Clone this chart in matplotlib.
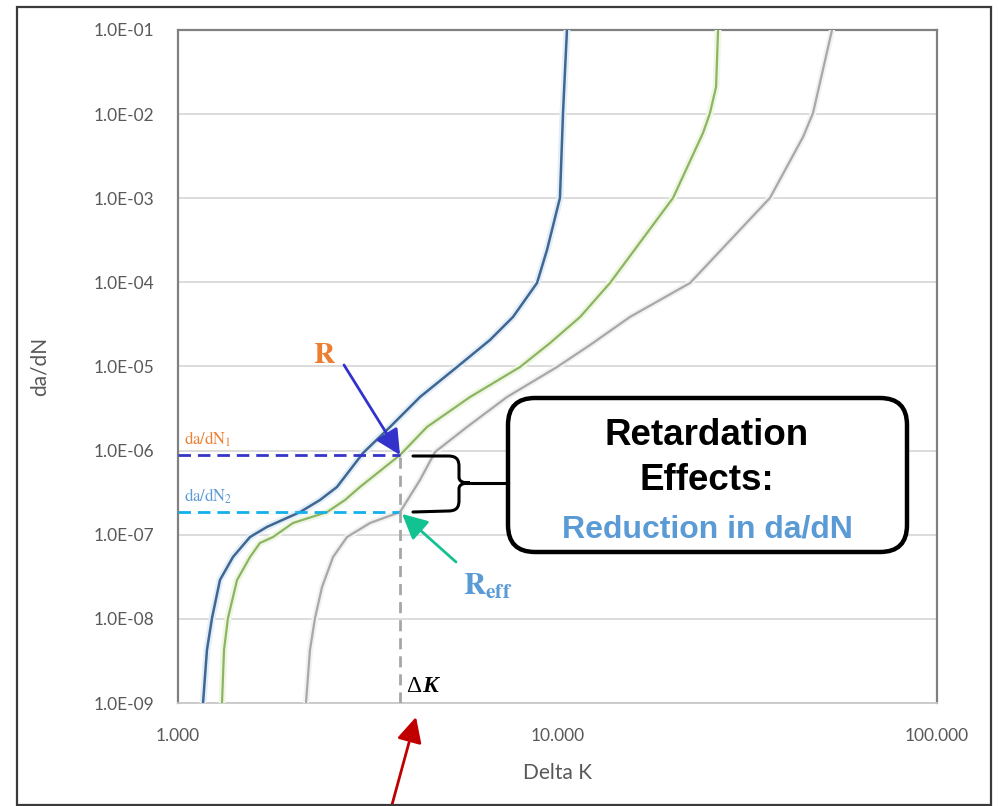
import matplotlib
matplotlib.use('Agg')
import matplotlib.pyplot as plt
from matplotlib.patches import FancyBboxPatch, Rectangle, PathPatch, FancyArrowPatch
from matplotlib.path import Path
from matplotlib.ticker import NullLocator
import matplotlib.patheffects as pe

plt.rcParams['mathtext.fontset'] = 'stix'

# ---------------- data ----------------
blue_dk = [1.164, 1.192, 1.229, 1.290, 1.396, 1.548, 1.716, 2.097, 2.367, 2.624,
           3.073, 3.620, 4.342, 5.435, 6.640, 7.633, 8.831, 9.383, 10.15, 10.34, 10.59]
blue_dadn = [1e-9, 4.27e-9, 1.02e-8, 2.90e-8, 5.44e-8, 9.40e-8, 1.24e-7, 1.86e-7, 2.59e-7, 3.70e-7,
             9.37e-7, 1.91e-6, 4.34e-6, 9.86e-6, 2.07e-5, 3.88e-5, 9.84e-5, 2.43e-4, 1.01e-3, 1.03e-2, 1e-1]

green_dk = [1.306, 1.322, 1.354, 1.431, 1.548, 1.644, 1.780, 2.009, 2.470, 2.755, 3.017,
            3.846, 4.530, 5.883, 7.966, 9.555, 11.47, 13.75, 20.16, 24.18, 25.22, 26.17, 26.49]
green_dadn = [1e-9, 4.27e-9, 1.02e-8, 2.90e-8, 5.44e-8, 7.98e-8, 9.40e-8, 1.38e-7, 1.86e-7, 2.59e-7, 3.70e-7,
              8.87e-7, 1.91e-6, 4.34e-6, 9.86e-6, 1.90e-5, 3.88e-5, 9.84e-5, 1.01e-3, 5.97e-3, 1.03e-2, 2.10e-2, 1e-1]

gray_dk = [2.174, 2.227, 2.296, 2.396, 2.562, 2.789, 3.206, 3.846, 4.342, 4.756, 5.775,
           7.362, 9.970, 12.18, 15.52, 22.35, 36.30, 44.36, 47.13, 52.89]
gray_dadn = [1e-9, 4.27e-9, 1.02e-8, 2.39e-8, 5.44e-8, 9.40e-8, 1.38e-7, 1.86e-7, 4.48e-7, 9.63e-7, 1.91e-6,
             4.34e-6, 9.86e-6, 1.80e-5, 3.88e-5, 9.84e-5, 1.01e-3, 5.35e-3, 1.03e-2, 1e-1]

delta_k = 3.846
dadn_1 = 8.87e-7
dadn_2 = 1.86e-7

x_ticks = [1, 10, 100]
x_tick_labels = ['1.000', '10.000', '100.000']
y_ticks = [1e-9, 1e-8, 1e-7, 1e-6, 1e-5, 1e-4, 1e-3, 1e-2, 1e-1]
y_tick_labels = ['1.0E-09', '1.0E-08', '1.0E-07', '1.0E-06', '1.0E-05',
                 '1.0E-04', '1.0E-03', '1.0E-02', '1.0E-01']

# ---------------- figure ----------------
W, H = 999, 806
fig = plt.figure(figsize=(W / 100, H / 100), dpi=100)
fig.patch.set_facecolor('white')


def F(x, y):
    """reference pixel -> figure fraction"""
    return (x / W, 1 - y / H)


L, R, T, B = 178, 937, 30, 703
ax = fig.add_axes([L / W, 1 - B / H, (R - L) / W, (B - T) / H])
ax.set_xscale('log')
ax.set_yscale('log')
ax.set_xlim(1, 100)
ax.set_ylim(1e-9, 1e-1)
ax.set_xticks(x_ticks)
ax.set_xticklabels(x_tick_labels)
ax.set_yticks(y_ticks)
ax.set_yticklabels(y_tick_labels)
ax.xaxis.set_minor_locator(NullLocator())
ax.yaxis.set_minor_locator(NullLocator())
ax.tick_params(axis='both', length=0, labelcolor='#595959', labelsize=12.5)
ax.tick_params(axis='y', pad=17)
ax.tick_params(axis='x', pad=18)
for lab in ax.get_xticklabels() + ax.get_yticklabels():
    lab.set_fontfamily('Lato')
ax.grid(axis='y', which='major', color='#d9d9d9', lw=1.3)
ax.set_axisbelow(True)
for s in ['left', 'top', 'right']:
    ax.spines[s].set_color('#808080')
    ax.spines[s].set_linewidth(1.6)
ax.spines['bottom'].set_color('#c8c8c8')
ax.spines['bottom'].set_linewidth(1.3)

ax.set_xlabel('Delta K', fontfamily='Lato', fontsize=15, color='#595959', labelpad=14)
ax.set_ylabel('da/dN', fontfamily='Lato', fontsize=15, color='#595959', labelpad=32)

# curves
ax.plot(blue_dk, blue_dadn, color='#3f6792', lw=1.8, zorder=4,
        path_effects=[pe.Stroke(linewidth=5, foreground='#e3eef8'), pe.Normal()])
ax.plot(green_dk, green_dadn, color='#8cb563', lw=1.6, zorder=4,
        path_effects=[pe.Stroke(linewidth=5, foreground='#f0f6e4'), pe.Normal()])
ax.plot(gray_dk, gray_dadn, color='#a8a8a8', lw=1.6, zorder=4,
        path_effects=[pe.Stroke(linewidth=4.5, foreground='#f2f2f2'), pe.Normal()])

# dashed reference lines
ax.plot([1, delta_k], [dadn_1, dadn_1], color='#3535c8', lw=2, dashes=(4.5, 2.5), zorder=5)
ax.plot([1, delta_k], [dadn_2, dadn_2], color='#13b0ea', lw=2, dashes=(4.5, 2.5), zorder=5)
ax.plot([delta_k, delta_k], [1e-9, dadn_1], color='#a6a6a6', lw=2, dashes=(4, 2.5), zorder=5)

# da/dN labels
ax.annotate(r'$\mathrm{da/dN}_1$', xy=(1, dadn_1), xytext=(6, 6), textcoords='offset pixels',
            fontsize=12, color='#ed7d31', ha='left', va='bottom')
ax.annotate(r'$\mathrm{da/dN}_2$', xy=(1, dadn_2), xytext=(6, 6), textcoords='offset pixels',
            fontsize=12, color='#5b9bd5', ha='left', va='bottom')

# R arrow
ax.annotate('', xy=(delta_k, dadn_1), xycoords='data',
            xytext=F(344, 365), textcoords='figure fraction',
            arrowprops=dict(arrowstyle='-|>,head_length=0.9,head_width=0.45', color='#3333cc',
                            lw=2, shrinkA=0, shrinkB=0, mutation_scale=17), zorder=6)
fig.text(*F(324, 355), r'$\mathbf{R}$', fontsize=21, color='#ed7d31', ha='center', va='center')

# R_eff arrow
ax.annotate('', xy=(delta_k, dadn_2), xycoords='data',
            xytext=F(456, 562), textcoords='figure fraction',
            arrowprops=dict(arrowstyle='-|>,head_length=0.9,head_width=0.45', color='#12c391',
                            lw=2, shrinkA=0, shrinkB=2, mutation_scale=17), zorder=6)
fig.text(*F(488, 586), r'$\mathbf{R}_{\mathbf{eff}}$', fontsize=22, color='#5b9bd5',
         ha='center', va='center')

# Delta K label and red arrow
ax.annotate('Δ', xy=(delta_k, 1e-9), xytext=(6, 6), textcoords='offset pixels',
            fontfamily='Liberation Serif', fontsize=17, color='black', ha='left', va='bottom')
ax.annotate('K', xy=(delta_k, 1e-9), xytext=(22, 6), textcoords='offset pixels',
            fontfamily='Liberation Serif', fontsize=17, fontweight='bold', fontstyle='italic',
            color='black', ha='left', va='bottom')
fig.add_artist(FancyArrowPatch(
    F(390, 812), F(416, 717), transform=fig.transFigure,
    arrowstyle='-|>,head_length=0.9,head_width=0.45', color='#c00000', lw=2,
    mutation_scale=17, shrinkA=0, shrinkB=0))

# curly brace (figure pixel geometry)
brace_px = [(413, 456), (448, 456), (457, 456), (459, 460), (459, 467), (459, 477),
            (459, 481), (462, 483), (470, 483),
            (462, 483), (459, 485), (459, 489), (459, 500),
            (459, 507), (457, 511), (448, 511), (413, 512)]
codes = [Path.MOVETO, Path.LINETO, Path.CURVE4, Path.CURVE4, Path.CURVE4, Path.LINETO,
         Path.CURVE4, Path.CURVE4, Path.CURVE4,
         Path.CURVE4, Path.CURVE4, Path.CURVE4, Path.LINETO,
         Path.CURVE4, Path.CURVE4, Path.CURVE4, Path.LINETO]
brace = PathPatch(Path([F(*p) for p in brace_px], codes), transform=fig.transFigure,
                  fill=False, lw=2.2, edgecolor='black', capstyle='round')
fig.add_artist(brace)
fig.add_artist(plt.Line2D([F(468, 483)[0], F(508, 483)[0]], [F(468, 483)[1], F(508, 483)[1]],
                          transform=fig.transFigure, color='black', lw=2.2))

# callout box
bx0, by0 = F(508, 552)
bx1, by1 = F(907, 398)
box = FancyBboxPatch((bx0, by0), bx1 - bx0, by1 - by0,
                     boxstyle='round,pad=0,rounding_size=0.027', transform=fig.transFigure,
                     facecolor='white', edgecolor='black', lw=3.2, mutation_aspect=W / H)
fig.add_artist(box)
fig.text(*F(707, 445), 'Retardation', fontfamily='Liberation Sans', fontweight='bold',
         fontsize=26.5, color='black', ha='center', va='baseline')
fig.text(*F(707, 490), 'Effects:', fontfamily='Liberation Sans', fontweight='bold',
         fontsize=26.5, color='black', ha='center', va='baseline')
fig.text(*F(707, 537), 'Reduction in da/dN', fontfamily='Liberation Sans', fontweight='bold',
         fontsize=23, color='#5b9bd5', ha='center', va='baseline')

# outer frame
fx0, fy0 = F(17, 805)
fx1, fy1 = F(991, 7)
fig.add_artist(Rectangle((fx0, fy0), fx1 - fx0, fy1 - fy0, transform=fig.transFigure,
                         fill=False, edgecolor='#3a3a3a', lw=1.6))

fig.savefig('out.png', dpi=100)
